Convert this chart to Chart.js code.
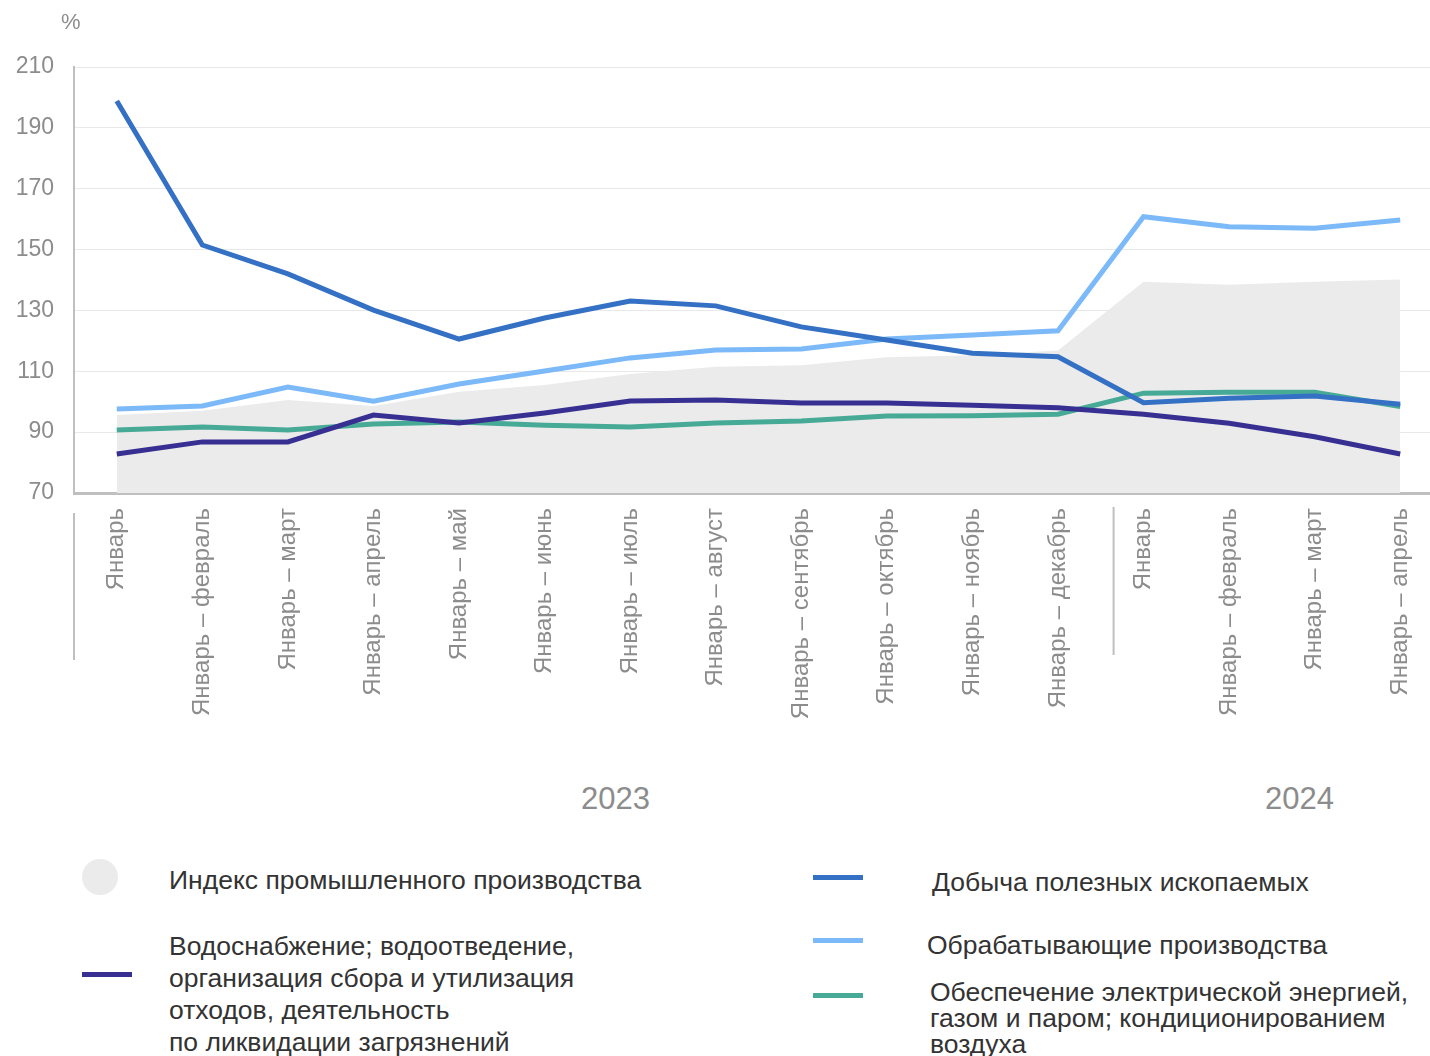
<!DOCTYPE html>
<html lang="ru">
<head>
<meta charset="UTF-8">
<title>Индексы производства</title>
<script src="https://cdn.jsdelivr.net/npm/chart.js@4.4.1/dist/chart.umd.min.js"></script>
<style>
    body { margin: 0; width: 1430px; height: 1056px; overflow: hidden; background: #fff;
           font-family: 'Liberation Sans', Arial, sans-serif; position: relative; }
    #chart-box { position: absolute; left: 0; top: 0; width: 1443px; height: 760px; }
    .unit { position: absolute; left: 61px; top: 9px; font-size: 22px; color: #8c8c8c; }
    .year { position: absolute; top: 781px; font-size: 31px; color: #8c8c8c; }
    .lg-text { position: absolute; font-size: 26.5px; color: #333; line-height: 32px; white-space: nowrap; }
    .lg-line { position: absolute; width: 50px; height: 5px; }
    .lg-dot { position: absolute; width: 36px; height: 36px; border-radius: 50%; background: #ebebeb; }
</style>
</head>
<body>
<div id="chart-box"><canvas id="prodChart"></canvas></div>
<div class="unit">%</div>
<div class="year" style="left:581px">2023</div>
<div class="year" style="left:1265px">2024</div>

<div class="lg-dot" style="left:82px; top:859px"></div>
<div class="lg-text" style="left:169px; top:864px">Индекс промышленного производства</div>
<div class="lg-line" style="left:82px; top:972px; background:#373092"></div>
<div class="lg-text" style="left:169px; top:930px">Водоснабжение; водоотведение,<br>организация сбора и утилизация<br>отходов, деятельность<br>по ликвидации загрязнений</div>

<div class="lg-line" style="left:813px; top:875px; background:#3470c4"></div>
<div class="lg-text" style="left:932px; top:866px">Добыча полезных ископаемых</div>
<div class="lg-line" style="left:813px; top:938px; background:#7cb9f8"></div>
<div class="lg-text" style="left:927px; top:929px">Обрабатывающие производства</div>
<div class="lg-line" style="left:813px; top:993px; background:#46aa96"></div>
<div class="lg-text" style="left:930px; top:979px; line-height:26px">Обеспечение электрической энергией,<br>газом и паром; кондиционированием<br>воздуха</div>

<script>
    // периоды (нарастающим итогом)
    const periods = [
        'Январь', 'Январь – февраль', 'Январь – март', 'Январь – апрель', 'Январь – май',
        'Январь – июнь', 'Январь – июль', 'Январь – август', 'Январь – сентябрь',
        'Январь – октябрь', 'Январь – ноябрь', 'Январь – декабрь',
        'Январь', 'Январь – февраль', 'Январь – март', 'Январь – апрель'
    ];
    const yTicks = [70, 90, 110, 130, 150, 170, 190, 210];

    const industryIndex = [95.6, 97, 100.6, 98.6, 103.3, 105.5, 109.1, 111.5, 112, 114.6, 115.3, 116.8, 139.4, 138.4, 139.4, 140.2];
    const mining        = [198.8, 151.5, 142, 130.1, 120.6, 127.5, 133.1, 131.5, 124.6, 120.3, 115.9, 114.8, 99.7, 101.1, 101.9, 99.2];
    const manufacturing = [97.6, 98.6, 104.8, 100.2, 105.8, 110.1, 114.4, 117, 117.3, 120.6, 121.9, 123.3, 160.8, 157.5, 157, 159.7];
    const energy        = [90.7, 91.7, 90.7, 92.7, 93.3, 92.3, 91.7, 93, 93.7, 95.3, 95.4, 95.9, 102.8, 103.1, 103.1, 98.4];
    const water         = [82.8, 86.8, 86.8, 95.6, 93, 96.3, 100.2, 100.6, 99.6, 99.6, 98.8, 98, 95.9, 92.9, 88.5, 82.8];

    // вертикальные разделители годов под осью X
    const separators = {
        id: 'separators',
        afterDraw(chart) {
            const ctx = chart.ctx, x = chart.scales.x;
            const step = x.getPixelForValue(1) - x.getPixelForValue(0);
            ctx.save();
            ctx.strokeStyle = '#bfbfbf';
            ctx.lineWidth = 2;
            const xs = [[x.getPixelForValue(0) - step / 2, 513, 660], [x.getPixelForValue(11) + step * 0.65, 507, 655]];
            xs.forEach(([px, y1, y2]) => {
                ctx.beginPath(); ctx.moveTo(px, y1); ctx.lineTo(px, y2); ctx.stroke();
            });
            ctx.restore();
        }
    };

    const line = (label, data, color, order) => ({
        label, data, borderColor: color, backgroundColor: color, borderWidth: 5,
        pointRadius: 0, fill: false, tension: 0, order
    });

    new Chart(document.getElementById('prodChart'), {
        type: 'line',
        data: {
            labels: periods,
            datasets: [
                { label: 'Индекс промышленного производства', data: industryIndex, fill: 'start',
                  backgroundColor: '#ebebeb', borderWidth: 0, pointRadius: 0, order: 10 },
                line('Добыча полезных ископаемых', mining, '#3470c4', 1),
                line('Водоснабжение', water, '#373092', 2),
                line('Обрабатывающие производства', manufacturing, '#7cb9f8', 3),
                line('Обеспечение электрической энергией', energy, '#46aa96', 4)
            ]
        },
        options: {
            responsive: true, maintainAspectRatio: false, animation: false,
            layout: { padding: { top: 67, right: 0, left: 0, bottom: 0 } },
            plugins: { legend: { display: false }, tooltip: { enabled: false } },
            scales: {
                x: {
                    offset: true,
                    grid: { display: false },
                    border: { display: true, color: '#bfbfbf', width: 3 },
                    ticks: { minRotation: 90, maxRotation: 90, autoSkip: false, padding: 7,
                             color: '#8c8c8c', font: { family: "'Liberation Sans', Arial", size: 24 } },
                    afterFit(scale) { scale.height = 760 - 67 - 426; }
                },
                y: {
                    min: 70, max: 210,
                    afterBuildTicks(scale) { scale.ticks = yTicks.map(v => ({ value: v })); },
                    grid: { color: '#e8e8e8', lineWidth: 1, drawTicks: false },
                    border: { display: true, color: '#bfbfbf', width: 2 },
                    ticks: { padding: 20, color: '#8c8c8c', font: { family: "'Liberation Sans', Arial", size: 23 } },
                    afterFit(scale) { scale.width = 74; }
                }
            }
        },
        plugins: [separators]
    });
</script>
</body>
</html>
